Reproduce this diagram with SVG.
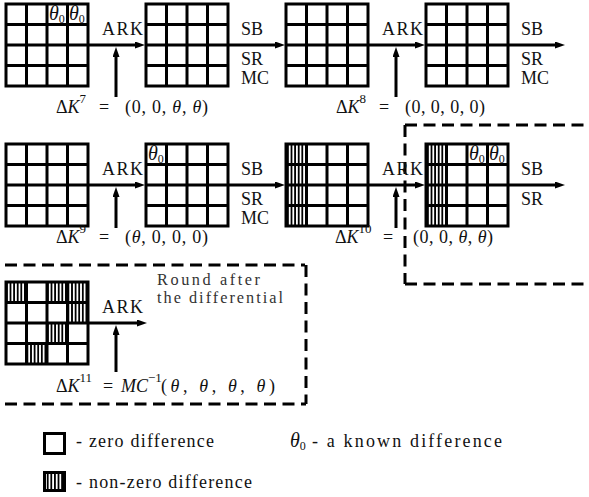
<svg xmlns="http://www.w3.org/2000/svg" width="589" height="497" viewBox="0 0 589 497">
<style>
.t{font-family:"Liberation Serif","Times New Roman",serif;font-size:18px;fill:#111}
.i{font-style:italic}
.s{font-size:13px}
.th{font-family:"Liberation Serif","Times New Roman",serif;font-size:20px;font-style:italic;fill:#111}
.sub{font-size:12px;font-style:normal}
.gl{stroke:#000;stroke-width:3;fill:none}
.ar{stroke:#000;stroke-width:3;fill:none;marker-end:url(#ah)}
.dash{stroke:#000;stroke-width:3;fill:none;stroke-dasharray:12 6.5}
.lt{fill:#333;font-size:16.3px}
</style>
<defs>
<marker id="ah" viewBox="0 0 10 7" refX="3" refY="3.5" markerWidth="10" markerHeight="7" markerUnits="userSpaceOnUse" orient="auto">
<path d="M0,0 L10,3.5 L0,7 z" fill="#000"/>
</marker>
<pattern id="hatch" width="3.6" height="4" patternUnits="userSpaceOnUse">
<rect x="0" y="0" width="1.8" height="4" fill="#000"/>
</pattern>
<g id="gridLines">
<rect class="gl" x="0" y="0" width="82" height="82"/>
<path class="gl" d="M20.5,0V82M41,0V82M61.5,0V82M0,20.5H82M0,41H82M0,61.5H82"/>
</g>
<rect id="hc" width="20.5" height="20.5" fill="url(#hatch)"/>
<rect id="hcol" width="20.5" height="82" fill="url(#hatch)"/>
</defs>

<!-- dashed regions -->
<g id="region-last-rounds">
<path class="dash" d="M405,125H589"/>
<path class="dash" d="M405,125V284"/>
<path class="dash" d="M405,284H589"/>
</g>
<g id="region-after">
<path class="dash" d="M5,265H305"/>
<path class="dash" d="M306,265V404"/>
<path class="dash" d="M5,404H306"/>
</g>

<!-- row 1 -->
<g id="s1">
<rect x="6" y="4" width="82" height="82" fill="#fff"/>
<use href="#gridLines" x="6" y="4"/>
<text class="th" x="49" y="20">θ<tspan class="sub" dy="3">0</tspan></text>
<text class="th" x="69" y="20">θ<tspan class="sub" dy="3">0</tspan></text>
</g>
<g id="s2">
<rect x="146" y="4" width="82" height="82" fill="#fff"/>
<use href="#gridLines" x="146" y="4"/>
</g>
<g id="s3">
<rect x="286" y="4" width="82" height="82" fill="#fff"/>
<use href="#gridLines" x="286" y="4"/>
</g>
<g id="s4">
<rect x="426" y="4" width="82" height="82" fill="#fff"/>
<use href="#gridLines" x="426" y="4"/>
</g>

<!-- row 2 -->
<g id="s5">
<rect x="6" y="144" width="82" height="82" fill="#fff"/>
<use href="#gridLines" x="6" y="144"/>
</g>
<g id="s6">
<rect x="146" y="144" width="82" height="82" fill="#fff"/>
<use href="#gridLines" x="146" y="144"/>
<text class="th" x="148" y="160">θ<tspan class="sub" dy="3">0</tspan></text>
</g>
<g id="s7">
<rect x="286" y="144" width="82" height="82" fill="#fff"/>
<use href="#hcol" x="287" y="144"/>
<use href="#gridLines" x="286" y="144"/>
</g>
<g id="s8">
<rect x="426" y="144" width="82" height="82" fill="#fff"/>
<use href="#hcol" x="427" y="144"/>
<use href="#gridLines" x="426" y="144"/>
<text class="th" x="469" y="160">θ<tspan class="sub" dy="3">0</tspan></text>
<text class="th" x="489" y="160">θ<tspan class="sub" dy="3">0</tspan></text>
</g>

<!-- row 3 -->
<g id="s9">
<rect x="6" y="282" width="82" height="82" fill="#fff"/>
<use href="#hc" x="6" y="282"/>
<use href="#hc" x="47" y="282"/>
<use href="#hc" x="67.5" y="282"/>
<use href="#hc" x="67.5" y="302.5"/>
<use href="#hc" x="47" y="323"/>
<use href="#hc" x="26.5" y="343.5"/>
<use href="#gridLines" x="6" y="282"/>
</g>

<!-- connectors -->
<g id="connectors">
<path class="ar" d="M88,45H138"/>
<path class="ar" d="M228,45H278"/>
<path class="ar" d="M368,45H418"/>
<path class="ar" d="M508,45H558"/>
<path class="ar" d="M116,97V54"/>
<path class="ar" d="M396,97V54"/>
<path class="ar" d="M88,185H138"/>
<path class="ar" d="M228,185H278"/>
<path class="ar" d="M368,185H418"/>
<path class="ar" d="M508,185H558"/>
<path class="ar" d="M116,228V194"/>
<path class="ar" d="M396,228V194"/>
<path class="ar" d="M88,323H140"/>
<path class="ar" d="M116,372V332"/>
</g>

<!-- operation labels -->
<g id="labels">
<text class="t" x="102" y="35" textLength="41">ARK</text>
<text class="t" x="382" y="35" textLength="41">ARK</text>
<text class="t" x="241" y="35">SB</text>
<text class="t" x="241" y="65">SR</text>
<text class="t" x="241" y="84">MC</text>
<text class="t" x="521" y="35">SB</text>
<text class="t" x="521" y="65">SR</text>
<text class="t" x="521" y="84">MC</text>

<text class="t" x="102" y="175" textLength="41">ARK</text>
<text class="t" x="382" y="175" textLength="41">ARK</text>
<text class="t" x="241" y="175">SB</text>
<text class="t" x="241" y="205">SR</text>
<text class="t" x="241" y="224">MC</text>
<text class="t" x="521" y="175">SB</text>
<text class="t" x="521" y="205">SR</text>

<text class="t" x="102" y="313" textLength="41">ARK</text>
<text class="t lt" x="157" y="285" textLength="103">Round after</text>
<text class="t lt" x="157" y="303" textLength="126">the differential</text>
</g>

<!-- key differences -->
<g id="dk7">
<text class="t" x="56" y="113">Δ<tspan class="i">K</tspan><tspan class="s" dy="-10">7</tspan></text>
<text class="t" x="99" y="113">=</text>
<text class="t" x="125" y="113" textLength="83">(0, 0, <tspan class="i">θ</tspan>, <tspan class="i">θ</tspan>)</text>
</g>
<g id="dk8">
<text class="t" x="336" y="113">Δ<tspan class="i">K</tspan><tspan class="s" dy="-10">8</tspan></text>
<text class="t" x="379" y="113">=</text>
<text class="t" x="405" y="113" textLength="80">(0, 0, 0, 0)</text>
</g>
<g id="dk9">
<text class="t" x="56" y="243">Δ<tspan class="i">K</tspan><tspan class="s" dy="-10">9</tspan></text>
<text class="t" x="99" y="243">=</text>
<text class="t" x="125" y="243" textLength="83">(<tspan class="i">θ</tspan>, 0, 0, 0)</text>
</g>
<g id="dk10">
<text class="t" x="335" y="243">Δ<tspan class="i">K</tspan><tspan class="s" dy="-10">10</tspan></text>
<text class="t" x="383" y="243">=</text>
<text class="t" x="413" y="243" textLength="80">(0, 0, <tspan class="i">θ</tspan>, <tspan class="i">θ</tspan>)</text>
</g>
<g id="dk11">
<text class="t" x="56" y="392">Δ<tspan class="i">K</tspan><tspan class="s" dy="-10">11</tspan></text>
<text class="t" x="103" y="392">=</text>
<text class="t i" x="121" y="392">MC<tspan class="s" style="font-style:normal" dy="-10">−1</tspan></text>
<text class="t" x="161" y="392" textLength="114">(<tspan class="i">θ</tspan>, <tspan class="i">θ</tspan>, <tspan class="i">θ</tspan>, <tspan class="i">θ</tspan>)</text>
</g>

<!-- legend -->
<g id="legend-zero">
<rect x="44.5" y="433.5" width="20" height="20" fill="#fff" stroke="#000" stroke-width="3"/>
<text class="t" x="76" y="447" textLength="138">- zero difference</text>
</g>
<g id="legend-known">
<text class="th" x="290" y="447">θ<tspan class="sub" dy="3">0</tspan></text>
<text class="t" x="312" y="447" textLength="190">- a known difference</text>
</g>
<g id="legend-nonzero">
<rect x="44.5" y="472.5" width="20" height="18" fill="url(#hatch)" stroke="#000" stroke-width="3"/>
<text class="t" x="76" y="488" textLength="176">- non-zero difference</text>
</g>
</svg>
